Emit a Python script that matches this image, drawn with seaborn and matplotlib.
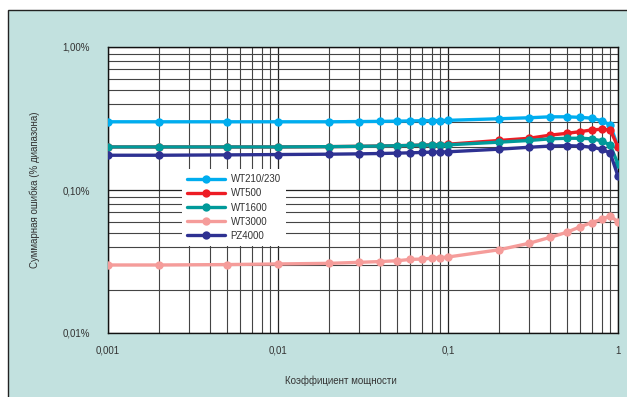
import numpy as np
import pandas as pd
import seaborn as sns
import matplotlib
matplotlib.use('Agg')
import matplotlib.pyplot as plt
from matplotlib.patches import Rectangle
from matplotlib.ticker import LogLocator, NullFormatter

power_factor = [0.001, 0.002, 0.005, 0.01, 0.02, 0.03, 0.04, 0.05, 0.06, 0.07, 0.08,
                0.09, 0.1, 0.2, 0.3, 0.4, 0.5, 0.6, 0.7, 0.8, 0.9, 1.0]

wt210 = [0.300, 0.300, 0.300, 0.300, 0.300, 0.301, 0.302, 0.303, 0.304, 0.305, 0.305,
         0.306, 0.307, 0.315, 0.320, 0.325, 0.325, 0.322, 0.318, 0.305, 0.285, 0.200]
wt500 = [0.200, 0.200, 0.200, 0.200, 0.201, 0.202, 0.203, 0.204, 0.205, 0.206, 0.207,
         0.208, 0.209, 0.222, 0.230, 0.242, 0.249, 0.256, 0.263, 0.266, 0.263, 0.200]
wt1600 = [0.200, 0.200, 0.200, 0.200, 0.201, 0.202, 0.203, 0.204, 0.205, 0.206, 0.206,
          0.207, 0.207, 0.216, 0.222, 0.228, 0.230, 0.230, 0.228, 0.221, 0.206, 0.152]
wt3000 = [0.0299, 0.0299, 0.0301, 0.0304, 0.0307, 0.0312, 0.0316, 0.0320, 0.0327, 0.0329,
          0.0333, 0.0336, 0.0340, 0.0382, 0.0424, 0.0467, 0.0506, 0.0554, 0.0591, 0.0624,
          0.0658, 0.0600]
pz4000 = [0.175, 0.175, 0.176, 0.177, 0.178, 0.179, 0.180, 0.181, 0.182, 0.183, 0.184,
          0.184, 0.185, 0.193, 0.199, 0.203, 0.204, 0.203, 0.199, 0.193, 0.181, 0.125]

models = ['WT210/230', 'WT500', 'WT1600', 'WT3000', 'PZ4000']
colors = ['#00adef', '#ed1c24', '#009a9a', '#f59c9a', '#2e3192']

y_ticks = [0.01, 0.1, 1.0]
y_labels = ['0,01%', '0,10%', '1,00%']
x_ticks = [0.001, 0.01, 0.1, 1.0]
x_labels = ['0,001', '0,01', '0,1', '1']

df = pd.DataFrame({
    'pf': power_factor * 5,
    'err': wt210 + wt500 + wt1600 + wt3000 + pz4000,
    'model': sum([[m] * len(power_factor) for m in models], []),
})

sns.set_style('white')
plt.rcParams['font.family'] = ['Liberation Sans', 'DejaVu Sans']

fig = plt.figure(figsize=(6.27, 3.97), dpi=100)
# teal panel behind the chart
fig.patches.append(Rectangle((8 / 627, -0.05), 1.1, 0.05 + (397 - 10) / 397,
                             transform=fig.transFigure, facecolor='#c2e1df',
                             edgecolor='#222222', lw=1.0, zorder=-5))

ax = fig.add_axes([108 / 627, (397 - 333) / 397, 510 / 627, 286 / 397])
ax.set_zorder(2)
ax.set_facecolor('white')

sns.lineplot(data=df, x='pf', y='err', hue='model', hue_order=models,
             palette=colors, marker='o', markersize=6, markeredgewidth=0,
             linewidth=2.4, ax=ax, zorder=3)

ax.set_xscale('log')
ax.set_yscale('log')
ax.set_xlim(0.001, 1.0)
ax.set_ylim(0.01, 1.0)

ax.xaxis.set_minor_locator(LogLocator(base=10, subs=np.arange(2, 10)))
ax.yaxis.set_minor_locator(LogLocator(base=10, subs=np.arange(2, 10)))
ax.xaxis.set_minor_formatter(NullFormatter())
ax.yaxis.set_minor_formatter(NullFormatter())
ax.set_xticks(x_ticks, x_labels)
ax.set_yticks(y_ticks, y_labels)

ax.grid(True, which='major', color='#222222', lw=0.9)
ax.grid(True, which='minor', color='#444444', lw=0.8)
ax.set_axisbelow(True)

ax.tick_params(which='both', length=0)
ax.tick_params(axis='x', pad=9, labelsize=7, labelcolor='#333333')
ax.tick_params(axis='y', pad=13, labelsize=7, labelcolor='#333333')

for s in ax.spines.values():
    s.set_color('#111111')
    s.set_linewidth(1.0)

ax.set_xlabel('Коэффициент мощности', fontsize=7, color='#333333')
ax.set_ylabel('Суммарная ошибка (% диапазона)', fontsize=7, color='#333333')
ax.xaxis.set_label_coords((341 - 108) / 510, (333 - 375) / 286)
ax.yaxis.set_label_coords((40 - 108) / 510, 0.5)

leg = ax.legend(loc='upper left', bbox_to_anchor=((182 - 108) / 510, (333 - 169) / 286),
                frameon=True, facecolor='white', edgecolor='none', framealpha=1,
                fancybox=False, fontsize=7, labelspacing=0.42, handlelength=3.9,
                handletextpad=0.55, borderpad=0.55, borderaxespad=0)
leg.set_zorder(4)
for t in leg.get_texts():
    t.set_color('#333333')

fig.savefig('out.png', dpi=100, facecolor='white')
